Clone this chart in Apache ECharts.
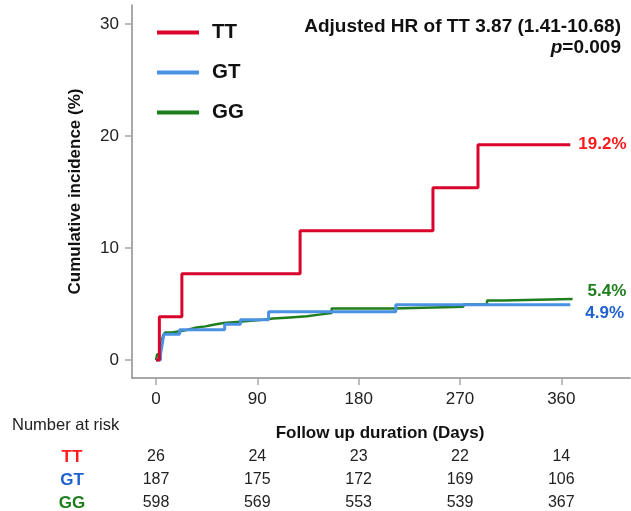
<!DOCTYPE html>
<html>
<head>
<meta charset="utf-8">
<script src="https://cdn.jsdelivr.net/npm/echarts@6/dist/echarts.min.js"></script>
<style>
html,body{margin:0;padding:0;background:#fff;}
#c{width:631px;height:511px;}
</style>
</head>
<body>
<div id="c"></div>
<script>
// ---- data ----
const groups = ['TT', 'GT', 'GG'];
const ttDays = [0, 3, 23, 128, 246, 286, 368];
const ttInc  = [0, 3.85, 7.69, 11.54, 15.38, 19.23, 19.23];
const gtDays = [0, 4, 5, 6, 7, 21, 61, 75, 100, 213, 368];
const gtInc  = [0, 0.5, 1.1, 1.7, 2.3, 2.7, 3.2, 3.6, 4.3, 4.93, 4.93];
const ggDays = [0, 1, 3.5, 4.5, 5.5, 6.5, 8, 14, 24, 30, 36, 44, 51, 60, 72, 84, 95, 104, 119, 134, 145, 156, 211, 273, 294, 308, 370];
const ggInc  = [0, 0.5, 0.9, 1.4, 1.9, 2.2, 2.45, 2.6, 2.75, 2.9, 3.0, 3.15, 3.3, 3.4, 3.5, 3.6, 3.7, 3.8, 3.9, 4.05, 4.2, 4.6, 4.75, 4.95, 5.3, 5.45, 5.45];
const endLabels = ['19.2%', '4.9%', '5.4%'];
const xTicks = [0, 90, 180, 270, 360];
const yTicks = [0, 10, 20, 30];
const riskTimes = [0, 90, 180, 270, 360];
const riskTT = [26, 24, 23, 22, 14];
const riskGT = [187, 175, 172, 169, 106];
const riskGG = [598, 569, 553, 539, 367];

const FONT = 'Arial, "Liberation Sans", Helvetica, sans-serif';
const lineColors = {TT: '#d9042b', GT: '#4a91e3', GG: '#1e7e1e'};
const labelColors = {TT: '#ff1a1a', GT: '#1f62cf', GG: '#1e7e1e'};

function zip(a, b) { return a.map((v, i) => [v, b[i]]); }

const chart = echarts.init(document.getElementById('c'), null, {renderer: 'canvas'});

function mkSeries(name, days, inc, width, lbl, offset, z) {
  return {
    name: name, type: 'line', step: 'end', data: zip(days, inc),
    showSymbol: false, symbol: 'none', z: z,
    lineStyle: {color: lineColors[name], width: width},
    itemStyle: {color: lineColors[name]},
    endLabel: {
      show: true, formatter: () => lbl, color: labelColors[name],
      fontFamily: FONT, fontWeight: 'bold', fontSize: 17,
      distance: 8, offset: offset
    }
  };
}

const option = {
  animation: false,
  backgroundColor: '#fff',
  grid: {left: 132, right: 1, top: 5, bottom: 133, containLabel: false},
  legend: {
    orient: 'vertical', left: 152, top: 17,
    itemWidth: 42, itemHeight: 4, itemGap: 19, icon: 'rect',
    data: groups,
    textStyle: {fontFamily: FONT, fontSize: 20.5, fontWeight: 'bold', color: '#111', padding: [0, 0, 0, 8]}
  },
  xAxis: {
    type: 'value', min: -21.3, max: 421,
    axisLine: {show: true, onZero: false, lineStyle: {color: '#8c8c8c', width: 1.5}},
    axisTick: {show: true, customValues: xTicks, length: 7, lineStyle: {color: '#a8a8a8', width: 1.5}},
    axisLabel: {customValues: xTicks, fontFamily: FONT, fontSize: 17, color: '#222', margin: 13},
    splitLine: {show: false}
  },
  yAxis: {
    type: 'value', min: -1.61, max: 31.7,
    name: 'Cumulative incidence (%)', nameLocation: 'middle', nameGap: 48,
    nameTextStyle: {fontFamily: FONT, fontSize: 17, fontWeight: 'bold', color: '#111'},
    axisLine: {show: true, onZero: false, lineStyle: {color: '#8c8c8c', width: 1.5}},
    axisTick: {show: true, customValues: yTicks, length: 7, lineStyle: {color: '#a8a8a8', width: 1.5}},
    axisLabel: {customValues: yTicks, fontFamily: FONT, fontSize: 17, color: '#222', margin: 13},
    splitLine: {show: false}
  },
  series: [
    mkSeries('GG', ggDays, ggInc, 2.5, endLabels[2], [7, -8], 2),
    mkSeries('GT', gtDays, gtInc, 3, endLabels[1], [7, 9], 3),
    mkSeries('TT', ttDays, ttInc, 3, endLabels[0], [0, 0], 4)
  ]
};
chart.setOption(option);

// annotations + risk table, positioned via the chart's own x scale
const g = [];
g.push({type: 'text', x: 621, y: 27, style: {text: 'Adjusted HR of TT 3.87 (1.41-10.68)', font: 'bold 19px ' + FONT, fill: '#111', align: 'right', verticalAlign: 'middle'}});
g.push({type: 'text', x: 621, y: 48, style: {
  text: '{i|p}=0.009', font: 'bold 19px ' + FONT, fill: '#111', align: 'right', verticalAlign: 'middle',
  rich: {i: {fontStyle: 'italic', fontWeight: 'bold', fontSize: 19, fontFamily: FONT, fill: '#111'}}
}});
g.push({type: 'text', left: 12, top: 417, style: {text: 'Number at risk', font: '16.5px ' + FONT, fill: '#222'}});
g.push({type: 'text', x: 380, y: 433, style: {text: 'Follow up duration (Days)', font: 'bold 17px ' + FONT, fill: '#111', align: 'center', verticalAlign: 'middle'}});
const rows = [['TT', riskTT, 457], ['GT', riskGT, 480], ['GG', riskGG, 503]];
rows.forEach(([name, vals, y]) => {
  g.push({type: 'text', x: 72, y: y, style: {text: name, font: 'bold 17px ' + FONT, fill: labelColors[name], align: 'center', verticalAlign: 'middle'}});
  vals.forEach((v, i) => {
    const px = chart.convertToPixel({xAxisIndex: 0}, riskTimes[i]);
    g.push({type: 'text', x: px, y: y, style: {text: String(v), font: '16px ' + FONT, fill: '#222', align: 'center', verticalAlign: 'middle'}});
  });
});
chart.setOption({graphic: g});
</script>
</body>
</html>
